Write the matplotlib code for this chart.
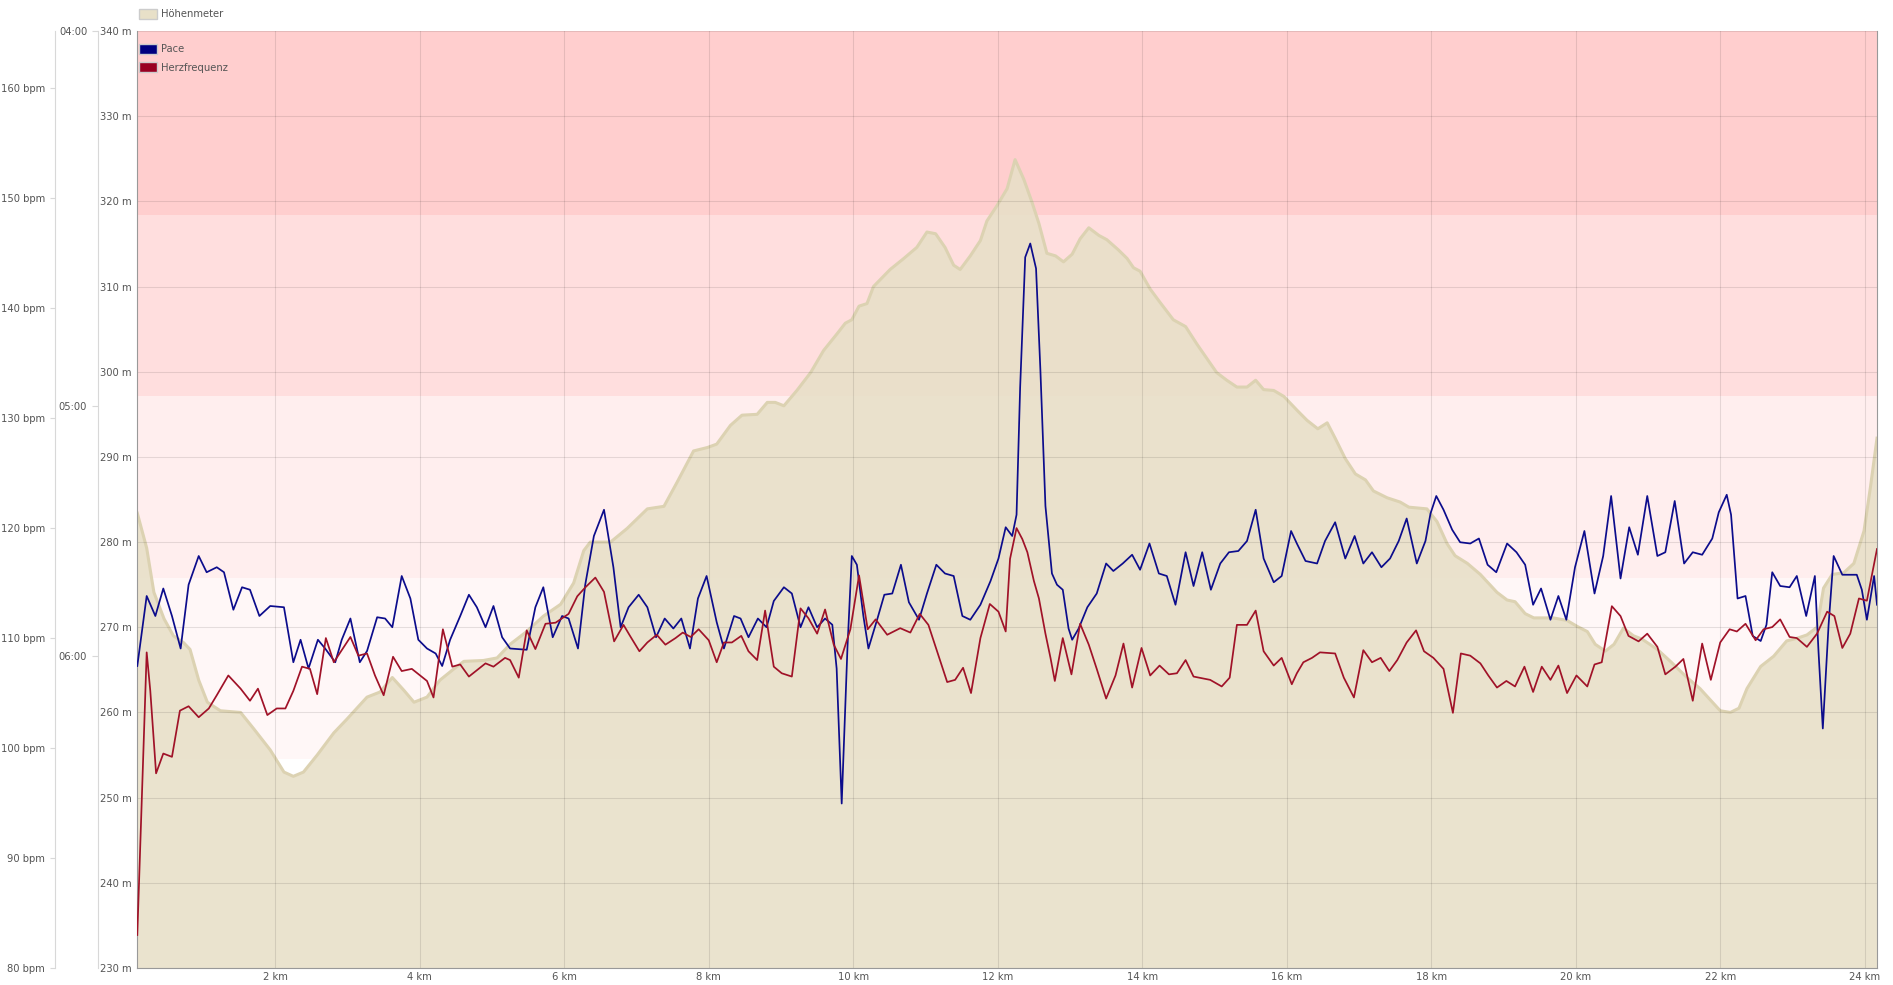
import matplotlib
matplotlib.use('Agg')
import matplotlib.pyplot as plt
import matplotlib.transforms as mtransforms
from matplotlib.patches import Patch, Rectangle
from matplotlib.ticker import FuncFormatter

# elevation profile (km, m)
elev_km = [0.09, 0.22, 0.32, 0.46, 0.59, 0.73, 0.82, 0.94, 1.06, 1.24, 1.52, 1.70, 1.93, 2.12, 2.25, 2.39, 2.58, 2.81, 2.99, 3.27, 3.45, 3.62, 3.78, 3.92, 4.10,
           4.28, 4.47, 4.61, 4.88, 5.07, 5.25, 5.48, 5.71, 5.95, 6.13, 6.27, 6.36, 6.64, 6.87, 7.15, 7.38, 7.56, 7.79, 7.98, 8.11,
           8.30, 8.46, 8.67, 8.81, 8.92, 9.04, 9.22, 9.41, 9.59, 9.78, 9.89, 9.98, 10.08, 10.19, 10.28, 10.51, 10.70, 10.88, 11.02, 11.14, 11.27, 11.39, 11.48, 11.62, 11.76, 11.85, 11.99, 12.13,
           12.24, 12.36, 12.47, 12.57, 12.68, 12.80, 12.91, 13.03, 13.14, 13.26, 13.40, 13.51, 13.67, 13.79, 13.88, 13.97, 14.11, 14.25, 14.43, 14.60, 14.76, 14.90, 15.03, 15.17, 15.31, 15.45, 15.57, 15.68, 15.82, 15.96, 16.14,
           16.28, 16.43, 16.56, 16.67, 16.81, 16.95, 17.09, 17.20, 17.39, 17.57, 17.69, 17.94, 18.08, 18.22, 18.33, 18.50, 18.68, 18.91, 19.05, 19.16, 19.30, 19.42, 19.69, 19.88, 20.02, 20.16,
           20.27, 20.41, 20.53, 20.66, 20.80, 20.92, 21.13, 21.31, 21.54, 21.72, 21.86, 22.00, 22.14, 22.26, 22.37, 22.56, 22.74, 22.92, 23.06, 23.20, 23.34, 23.43, 23.55, 23.71, 23.85, 23.99, 24.08, 24.17]
elev_m = [283.4, 279.3, 274.1, 271.0, 269.0, 268.2, 267.4, 263.8, 261.2, 260.2, 260.0, 258.1, 255.6, 253.0, 252.5, 253.0, 255.0, 257.6, 259.2, 261.8, 262.4, 264.1, 262.6, 261.2, 261.8,
          263.8, 265.1, 266.0, 266.1, 266.4, 268.0, 269.5, 271.3, 272.7, 275.2, 279.0, 280.0, 280.0, 281.6, 283.9, 284.2, 287.0, 290.7, 291.1, 291.5,
          293.7, 294.9, 295.0, 296.4, 296.4, 296.0, 297.8, 299.9, 302.5, 304.5, 305.7, 306.1, 307.7, 308.0, 310.0, 312.0, 313.3, 314.6, 316.4, 316.2, 314.6, 312.5, 312.0, 313.6, 315.4, 317.7, 319.5, 321.5,
          324.9, 322.6, 320.0, 317.4, 313.9, 313.6, 312.9, 313.8, 315.6, 316.9, 316.0, 315.5, 314.3, 313.3, 312.2, 311.8, 309.7, 308.1, 306.1, 305.3, 303.2, 301.5, 299.9, 299.0, 298.2, 298.2, 299.0, 297.9, 297.8, 297.1, 295.5,
          294.3, 293.3, 294.0, 292.2, 289.8, 288.0, 287.3, 286.0, 285.2, 284.7, 284.1, 283.9, 282.4, 279.8, 278.4, 277.5, 276.2, 274.1, 273.2, 273.0, 271.6, 271.1, 271.1, 270.8, 270.1, 269.5,
          268.0, 267.2, 268.0, 269.9, 269.0, 268.6, 267.4, 266.0, 264.1, 262.8, 261.5, 260.2, 260.0, 260.5, 262.8, 265.4, 266.6, 268.4, 268.7, 269.1, 270.0, 274.6, 276.2, 276.4, 277.5, 281.3, 286.5, 292.2]

# pace, stored as speed (km, km/h); the axis is labelled as min/km
pace_km = [0.09, 0.22, 0.34, 0.45, 0.57, 0.69, 0.80, 0.94, 1.05, 1.19, 1.29, 1.42, 1.54, 1.65, 1.78, 1.93, 2.12, 2.25, 2.35, 2.46, 2.59, 2.69, 2.83, 2.92, 3.04, 3.17, 3.27, 3.41, 3.52, 3.62, 3.75, 3.87, 3.98, 4.10,
           4.22, 4.31, 4.42, 4.56, 4.68, 4.79, 4.91, 5.02, 5.14, 5.25, 5.48, 5.60, 5.71, 5.84, 5.97, 6.06, 6.19, 6.29, 6.41, 6.55, 6.68, 6.78, 6.89, 7.03, 7.15, 7.27, 7.39, 7.51, 7.62, 7.74, 7.85, 7.97, 8.11,
           8.21, 8.35, 8.44, 8.55, 8.68, 8.80, 8.90, 9.04, 9.15, 9.27, 9.38, 9.50, 9.61, 9.71, 9.77, 9.84, 9.92, 9.98, 10.05, 10.14, 10.21, 10.33, 10.43, 10.54, 10.66, 10.77, 10.91, 11.02, 11.15, 11.27, 11.39, 11.51, 11.62, 11.76, 11.90, 12.01, 12.11,
           12.20, 12.26, 12.31, 12.38, 12.45, 12.53, 12.59, 12.66, 12.75, 12.82, 12.90, 12.98, 13.03, 13.12, 13.24, 13.37, 13.50, 13.60, 13.73, 13.86, 13.97, 14.10, 14.23, 14.34, 14.46, 14.60, 14.71, 14.83, 14.95, 15.08, 15.20, 15.33, 15.45, 15.57, 15.68, 15.82, 15.93, 16.06, 16.14,
           16.26, 16.42, 16.53, 16.67, 16.81, 16.94, 17.06, 17.18, 17.31, 17.43, 17.55, 17.66, 17.80, 17.92, 17.99, 18.07, 18.17, 18.29, 18.40, 18.54, 18.66, 18.78, 18.90, 19.05, 19.18, 19.30, 19.41, 19.52, 19.65, 19.76, 19.87, 19.99, 20.12,
           20.26, 20.38, 20.49, 20.62, 20.74, 20.86, 20.99, 21.13, 21.24, 21.37, 21.50, 21.62, 21.75, 21.89, 21.98, 22.09, 22.15, 22.24, 22.35, 22.45, 22.56, 22.64, 22.72, 22.83, 22.96, 23.06, 23.19, 23.31, 23.36, 23.42, 23.50, 23.57, 23.69, 23.89, 23.96, 24.03, 24.13, 24.17]
pace_kmh = [9.92, 10.48, 10.32, 10.54, 10.32, 10.06, 10.57, 10.80, 10.67, 10.71, 10.67, 10.37, 10.55, 10.53, 10.32, 10.40, 10.39, 9.95, 10.13, 9.90, 10.13, 10.06, 9.95, 10.13, 10.30, 9.95, 10.04, 10.31, 10.30, 10.23, 10.64, 10.46, 10.13, 10.06,
            10.02, 9.92, 10.13, 10.32, 10.49, 10.39, 10.23, 10.40, 10.15, 10.06, 10.05, 10.39, 10.55, 10.15, 10.32, 10.30, 10.06, 10.57, 10.96, 11.17, 10.71, 10.23, 10.39, 10.49, 10.39, 10.15, 10.30, 10.22, 10.30, 10.06, 10.46, 10.64, 10.27,
            10.06, 10.32, 10.30, 10.15, 10.30, 10.23, 10.44, 10.55, 10.50, 10.23, 10.39, 10.23, 10.30, 10.25, 9.90, 8.82, 10.07, 10.80, 10.73, 10.32, 10.06, 10.29, 10.49, 10.50, 10.73, 10.43, 10.29, 10.50, 10.73, 10.66, 10.64, 10.32, 10.29, 10.41, 10.60, 10.78, 11.03,
            10.96, 11.13, 12.15, 13.19, 13.30, 13.10, 12.29, 11.20, 10.66, 10.57, 10.53, 10.22, 10.13, 10.22, 10.39, 10.50, 10.74, 10.68, 10.74, 10.81, 10.69, 10.90, 10.66, 10.64, 10.41, 10.83, 10.56, 10.83, 10.53, 10.74, 10.83, 10.84, 10.92, 11.17, 10.78, 10.59, 10.64, 11.00, 10.90,
            10.76, 10.74, 10.92, 11.07, 10.78, 10.96, 10.74, 10.83, 10.71, 10.78, 10.92, 11.10, 10.74, 10.92, 11.14, 11.28, 11.17, 11.01, 10.91, 10.90, 10.94, 10.73, 10.67, 10.90, 10.83, 10.73, 10.41, 10.54, 10.29, 10.48, 10.29, 10.71, 11.00,
            10.50, 10.80, 11.28, 10.62, 11.03, 10.81, 11.28, 10.80, 10.83, 11.24, 10.74, 10.83, 10.81, 10.94, 11.15, 11.29, 11.13, 10.46, 10.48, 10.16, 10.12, 10.25, 10.67, 10.56, 10.55, 10.64, 10.32, 10.64, 10.04, 9.42, 10.25, 10.80, 10.65, 10.65, 10.53, 10.29, 10.64, 10.41]

# heart rate (km, bpm)
hr_km = [0.09, 0.22, 0.27, 0.35, 0.45, 0.57, 0.68, 0.80, 0.94, 1.08, 1.19, 1.35, 1.52, 1.65, 1.76, 1.89, 2.02, 2.14, 2.25, 2.37, 2.48, 2.58, 2.70, 2.81, 3.04, 3.15, 3.27, 3.38, 3.50, 3.63, 3.75, 3.89, 4.10,
         4.19, 4.32, 4.45, 4.56, 4.68, 4.91, 5.02, 5.18, 5.25, 5.37, 5.48, 5.60, 5.74, 5.88, 6.06, 6.18, 6.29, 6.43, 6.55, 6.69, 6.82, 6.91, 7.04, 7.15, 7.28, 7.40, 7.54, 7.64, 7.75, 7.86, 8.00, 8.11,
         8.21, 8.32, 8.45, 8.55, 8.67, 8.78, 8.90, 9.01, 9.15, 9.27, 9.38, 9.50, 9.61, 9.73, 9.83, 9.96, 10.08, 10.20, 10.31, 10.47, 10.65, 10.79, 10.92, 11.04, 11.16, 11.30, 11.41, 11.52, 11.63, 11.76, 11.89, 12.01, 12.11,
         12.17, 12.26, 12.34, 12.41, 12.50, 12.57, 12.66, 12.73, 12.79, 12.90, 13.02, 13.14, 13.26, 13.37, 13.50, 13.63, 13.74, 13.86, 13.99, 14.11, 14.24, 14.37, 14.48, 14.60, 14.71, 14.94, 15.10, 15.21, 15.31, 15.45, 15.57, 15.68, 15.82, 15.93, 16.07, 16.14,
         16.23, 16.35, 16.46, 16.67, 16.79, 16.93, 17.06, 17.18, 17.30, 17.42, 17.53, 17.66, 17.79, 17.90, 18.03, 18.17, 18.30, 18.41, 18.54, 18.68, 18.79, 18.91, 19.04, 19.16, 19.29, 19.41, 19.53, 19.65, 19.76, 19.88, 20.01, 20.16,
         20.26, 20.36, 20.50, 20.62, 20.73, 20.87, 20.99, 21.13, 21.24, 21.38, 21.49, 21.62, 21.75, 21.87, 22.00, 22.13, 22.23, 22.35, 22.49, 22.60, 22.72, 22.83, 22.96, 23.06, 23.20, 23.34, 23.48, 23.58, 23.69, 23.80, 23.92, 24.03, 24.17]
hr_bpm = [83.0, 108.7, 105.2, 97.7, 99.5, 99.2, 103.4, 103.8, 102.8, 103.6, 104.8, 106.6, 105.4, 104.3, 105.4, 103.0, 103.6, 103.6, 105.2, 107.4, 107.2, 104.9, 110.0, 107.8, 110.1, 108.4, 108.6, 106.6, 104.8, 108.3, 107.0, 107.2, 106.1,
          104.6, 110.8, 107.4, 107.6, 106.5, 107.7, 107.4, 108.2, 108.0, 106.4, 110.7, 109.0, 111.3, 111.4, 112.2, 113.8, 114.6, 115.5, 114.2, 109.7, 111.2, 110.2, 108.8, 109.6, 110.3, 109.4, 110.0, 110.5, 110.1, 110.8, 109.8, 107.8,
          109.6, 109.6, 110.2, 108.8, 108.0, 112.5, 107.4, 106.8, 106.5, 112.7, 111.8, 110.4, 112.6, 109.4, 108.1, 110.8, 115.7, 110.8, 111.7, 110.3, 110.9, 110.5, 112.2, 111.2, 108.8, 106.0, 106.2, 107.3, 105.0, 110.0, 113.1, 112.4, 110.6,
          117.2, 120.0, 119.0, 117.8, 115.2, 113.6, 110.4, 108.2, 106.1, 110.0, 106.7, 111.3, 109.4, 107.2, 104.5, 106.6, 109.5, 105.5, 109.1, 106.6, 107.5, 106.7, 106.8, 108.0, 106.5, 106.2, 105.6, 106.4, 111.2, 111.2, 112.5, 108.8, 107.5, 108.2, 105.8, 106.8,
          107.8, 108.2, 108.7, 108.6, 106.4, 104.6, 108.9, 107.8, 108.2, 107.0, 108.0, 109.6, 110.7, 108.8, 108.2, 107.2, 103.2, 108.6, 108.4, 107.7, 106.6, 105.5, 106.1, 105.6, 107.4, 105.1, 107.4, 106.2, 107.5, 105.0, 106.6, 105.6,
          107.6, 107.8, 112.9, 112.0, 110.2, 109.7, 110.4, 109.2, 106.7, 107.4, 108.1, 104.3, 109.5, 106.2, 109.6, 110.8, 110.6, 111.3, 109.8, 110.8, 111.0, 111.7, 110.1, 110.0, 109.2, 110.4, 112.4, 112.0, 109.1, 110.4, 113.6, 113.4, 118.1]

# heart rate zones (bpm edges) and their background colours
zone_edges = [99.0, 115.5, 132.0, 148.5, 165.2]
zone_colors = ['#FFF7F7', '#FFEEEE', '#FFDEDE', '#FFCECE']

x_ticks = list(range(2, 25, 2))
elev_ticks = list(range(230, 341, 10))
hr_ticks = list(range(80, 161, 10))
pace_ticks = [15.0, 12.0, 10.0]   # km/h  -> 04:00, 05:00, 06:00 min/km

txt = '#555555'
fs = 7.2


def pace_label(v, pos):
    sec = int(round(3600 / v))
    return f'{sec // 60:02d}:{sec % 60:02d}'


fig = plt.figure(figsize=(18.93, 9.85), dpi=100)
ax = fig.add_axes([137/1893, 17/985, 1740/1893, 937/985])
ax_pace = ax.twinx()
ax_hr = ax.twinx()

ax.set_xlim(0.086, 24.17)
ax.set_ylim(230, 340)
ax_hr.set_ylim(80, 165.2)
ax_pace.set_ylim(7.504, 15.0)

# zone bands (drawn in HR units, behind everything)
band_tr = mtransforms.blended_transform_factory(ax.transAxes, ax_hr.transData)
for lo, hi, c in zip(zone_edges[:-1], zone_edges[1:], zone_colors):
    ax.add_patch(Rectangle((0, lo), 1, hi - lo, transform=band_tr, facecolor=c,
                           edgecolor='none', zorder=0.1))

# elevation area
ax.fill_between(elev_km, elev_m, 230, color='#E8E0C8', alpha=0.88, lw=0, zorder=0.3)
ax.plot(elev_km, elev_m, color='#DCD2B2', lw=2.2, zorder=0.35, solid_joinstyle='round')

ax.set_axisbelow(True)
ax.grid(True, color='black', alpha=0.1, lw=0.8)

ax_pace.plot(pace_km, pace_kmh, color='#0c0c8c', lw=1.25, solid_joinstyle='round')
ax_hr.plot(hr_km, hr_bpm, color='#a01228', lw=1.25, solid_joinstyle='round')

# elevation axis
ax.set_yticks(elev_ticks)
ax.set_yticklabels([f'{v} m' for v in elev_ticks])
ax.set_xticks(x_ticks)
ax.set_xticklabels([f'{v} km' for v in x_ticks])
ax.tick_params(axis='both', length=0, labelsize=fs, labelcolor=txt, pad=3.6)
ax.tick_params(axis='x', pad=3.0)
for s in ['left', 'bottom', 'right']:
    ax.spines[s].set_color('#999999')
ax.spines['top'].set_visible(False)

# pace axis
ax_pace.yaxis.tick_left()
ax_pace.spines['left'].set_position(('outward', 28.3))
ax_pace.spines['left'].set_color('#d8d8d8')
for s in ['right', 'top', 'bottom']:
    ax_pace.spines[s].set_visible(False)
ax_pace.set_yticks(pace_ticks)
ax_pace.yaxis.set_major_formatter(FuncFormatter(pace_label))
ax_pace.tick_params(axis='y', length=4, color='#d8d8d8', labelsize=fs, labelcolor=txt, pad=3.6)

# heart rate axis
ax_hr.yaxis.tick_left()
ax_hr.spines['left'].set_position(('outward', 59))
ax_hr.spines['left'].set_color('#d8d8d8')
for s in ['right', 'top', 'bottom']:
    ax_hr.spines[s].set_visible(False)
ax_hr.set_yticks(hr_ticks)
ax_hr.set_yticklabels([f'{v} bpm' for v in hr_ticks])
ax_hr.tick_params(axis='y', length=3.6, color='#d8d8d8', labelsize=fs, labelcolor=txt, pad=3.6)

# legends
leg_kw = dict(loc='upper left', frameon=False, fontsize=fs, handlelength=1.8, handleheight=1.1,
              handletextpad=0.45, borderpad=0, borderaxespad=0, labelcolor=txt)
fig.legend(handles=[Patch(facecolor='#E8E0C8', edgecolor='#cccccc')], labels=['Höhenmeter'],
           bbox_to_anchor=(139/1893, 1 - 9/985), **leg_kw)
fig.legend(handles=[Patch(facecolor='#000080', edgecolor='#cccccc'),
                    Patch(facecolor='#990022', edgecolor='#cccccc')],
           labels=['Pace', 'Herzfrequenz'], labelspacing=0.82,
           bbox_to_anchor=(139/1893, 1 - 44/985), **leg_kw)

fig.savefig('out.png', dpi=100)
